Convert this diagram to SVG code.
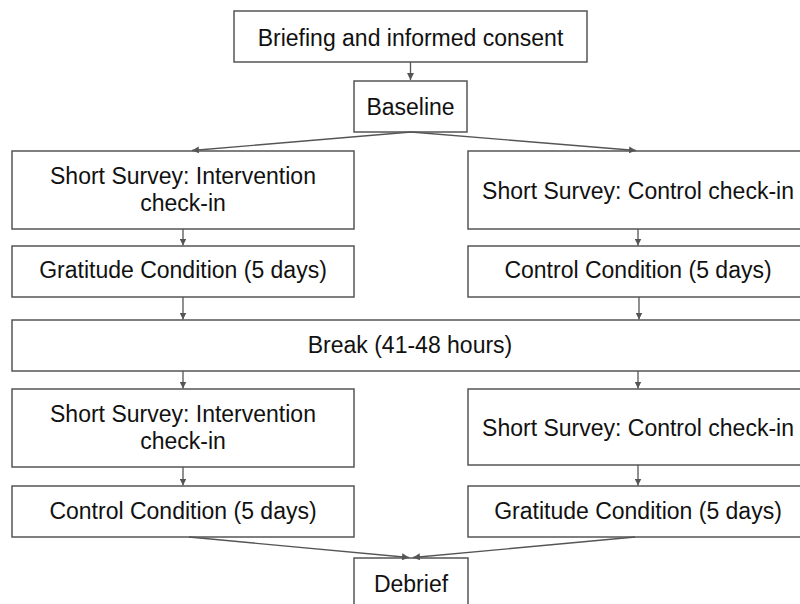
<svg xmlns="http://www.w3.org/2000/svg" width="800" height="604" viewBox="0 0 800 604">
<style>
rect.b{fill:#fff;stroke:#555;stroke-width:1.5}
text{font-family:"Liberation Sans",Arial,sans-serif;font-size:23px;fill:#111;text-anchor:middle}
.c line{stroke:#555;stroke-width:1.3;marker-end:url(#ah)}
</style>
<defs>
<marker id="ah" viewBox="0 0 10 10" refX="10" refY="5" markerWidth="7" markerHeight="7" markerUnits="userSpaceOnUse" orient="auto">
<path d="M0,0 L10,5 L0,10 z" fill="#555"/>
</marker>
</defs>
<rect width="800" height="604" fill="#fff"/>
<g id="briefing"><rect class="b" x="234" y="11" width="353" height="51"/><text x="410.5" y="46">Briefing and informed consent</text></g>
<g id="baseline"><rect class="b" x="354" y="81" width="113" height="51"/><text x="410.5" y="115">Baseline</text></g>
<g id="survey-int-1"><rect class="b" x="12" y="151" width="342" height="78"/><text x="183" y="184">Short Survey: Intervention</text><text x="183" y="211">check-in</text></g>
<g id="survey-ctl-1"><rect class="b" x="468" y="151" width="345" height="78"/><text x="638" y="199">Short Survey: Control check-in</text></g>
<g id="gratitude-1"><rect class="b" x="12" y="246" width="342" height="51"/><text x="183" y="278">Gratitude Condition (5 days)</text></g>
<g id="control-1"><rect class="b" x="468" y="246" width="345" height="51"/><text x="638" y="278">Control Condition (5 days)</text></g>
<g id="break"><rect class="b" x="12" y="320" width="801" height="51"/><text x="410" y="353">Break (41-48 hours)</text></g>
<g id="survey-int-2"><rect class="b" x="12" y="389" width="342" height="78"/><text x="183" y="422">Short Survey: Intervention</text><text x="183" y="449">check-in</text></g>
<g id="survey-ctl-2"><rect class="b" x="468" y="389" width="345" height="76"/><text x="638" y="436">Short Survey: Control check-in</text></g>
<g id="control-2"><rect class="b" x="12" y="486" width="342" height="51"/><text x="183" y="519">Control Condition (5 days)</text></g>
<g id="gratitude-2"><rect class="b" x="468" y="486" width="345" height="51"/><text x="638" y="519">Gratitude Condition (5 days)</text></g>
<g id="debrief"><rect class="b" x="354" y="558" width="114" height="60"/><text x="411" y="592">Debrief</text></g>
<g class="c" id="connectors">
<line x1="410.5" y1="62" x2="410.5" y2="80"/>
<line x1="411" y1="132" x2="192" y2="150.5"/>
<line x1="411" y1="132" x2="636" y2="150.5"/>
<line x1="183" y1="229" x2="183" y2="245.5"/>
<line x1="638" y1="229" x2="638" y2="245.5"/>
<line x1="183" y1="297" x2="183" y2="319.5"/>
<line x1="639" y1="297" x2="639" y2="319.5"/>
<line x1="183" y1="371" x2="183" y2="388.5"/>
<line x1="638" y1="371" x2="638" y2="388.5"/>
<line x1="183" y1="467" x2="183" y2="485.5"/>
<line x1="638" y1="465" x2="638" y2="485.5"/>
<line x1="189" y1="537" x2="409" y2="557.5"/>
<line x1="635" y1="537" x2="413" y2="557.5"/>
</g>
</svg>
